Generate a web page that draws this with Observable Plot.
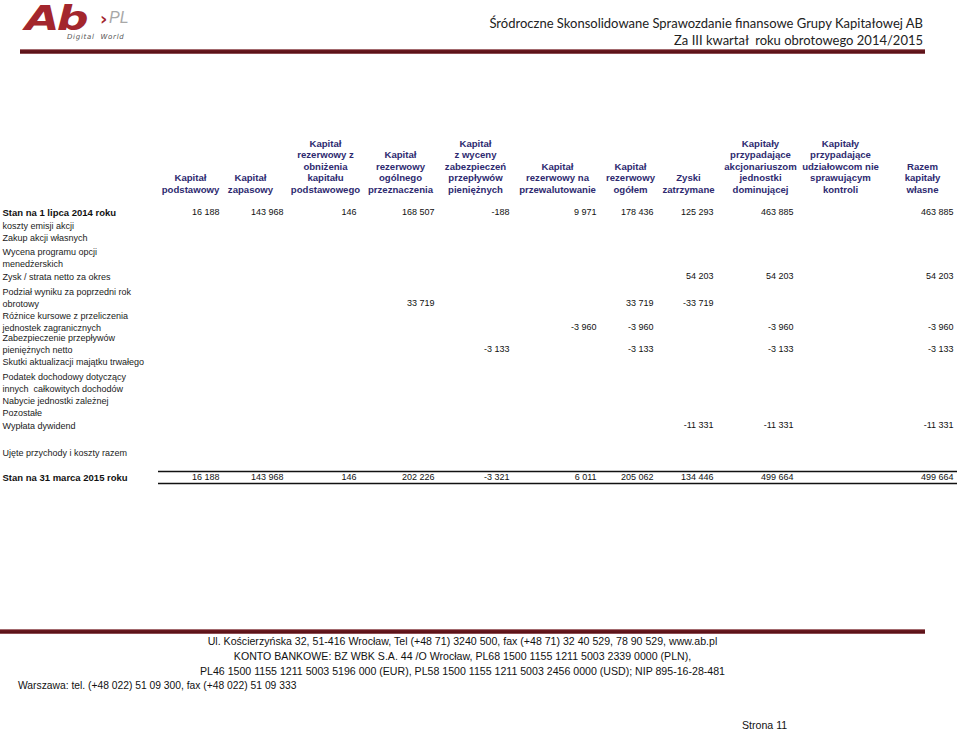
<!DOCTYPE html>
<html><head><meta charset="utf-8">
<script src="https://cdn.jsdelivr.net/npm/d3@7"></script>
<script src="https://cdn.jsdelivr.net/npm/@observablehq/plot@0.6"></script>
<style>
body{margin:0;background:#fff;width:960px;height:730px;position:relative;overflow:hidden;font-family:"Liberation Sans",Arial,sans-serif;color:#111}
#chart{position:absolute;left:0;top:0}
.abs{position:absolute;white-space:nowrap}
.bar{position:absolute;height:5px;background:linear-gradient(#c9a0a3 0%,#6a1a20 25%,#5a1218 70%,#a86a70 100%)}
.title{right:37px;font-family:"Lato","Liberation Sans",sans-serif;font-size:13px;color:#222;text-align:right}
.foot{font-family:"Liberation Sans",Arial,sans-serif;font-size:10.6px;color:#111;left:0;width:925px;text-align:center}
</style></head><body>
<div id="chart"></div>
<div class="abs" style="left:25px;top:5px;height:27px;overflow:visible;font:italic bold 33px/27px 'DejaVu Sans',sans-serif;color:#a3262d;letter-spacing:-2px;transform:scaleX(1.35);transform-origin:left top">Ab</div>
<div class="abs" style="left:100px;top:8px;font:bold 18px 'DejaVu Sans',sans-serif;color:#a3262d">›</div>
<div class="abs" style="left:109px;top:9px;font:italic 16px 'Liberation Sans',sans-serif;color:#a8a8a8">PL</div>
<div class="abs" style="left:67px;top:33px;font:italic 7px/8px 'DejaVu Sans',sans-serif;color:#555;letter-spacing:0.7px">Digital &nbsp;World</div>
<div class="abs title" style="top:15px">Śródroczne Skonsolidowane Sprawozdanie finansowe Grupy Kapitałowej AB</div>
<div class="abs title" style="top:32px">Za III kwartał&nbsp; roku obrotowego 2014/2015</div>
<div class="bar" style="left:20px;top:49px;width:905px"></div>
<div class="bar" style="left:0px;top:629px;width:925px"></div>
<div class="abs foot" style="top:635px">Ul. Kościerzyńska 32, 51-416 Wrocław, Tel (+48 71) 3240 500, fax (+48 71) 32 40 529, 78 90 529, www.ab.pl</div>
<div class="abs foot" style="top:650px">KONTO BANKOWE: BZ WBK S.A. 44 /O Wrocław, PL68 1500 1155 1211 5003 2339 0000 (PLN),</div>
<div class="abs foot" style="top:665px">PL46 1500 1155 1211 5003 5196 000 (EUR), PL58 1500 1155 1211 5003 2456 0000 (USD); NIP 895-16-28-481</div>
<div class="abs foot" style="top:680px;left:18px;width:auto;text-align:left;font-size:10.3px">Warszawa: tel. (+48 022) 51 09 300, fax (+48 022) 51 09 333</div>
<div class="abs foot" style="top:719px;left:742px;width:auto;text-align:left">Strona 11</div>
<script>
// ---------- data ----------
const columnHeaders = [
  "Kapitał\npodstawowy",
  "Kapitał\nzapasowy",
  "Kapitał\nrezerwowy z\nobniżenia\nkapitału\npodstawowego",
  "Kapitał\nrezerwowy\nogólnego\nprzeznaczenia",
  "Kapitał\nz wyceny\nzabezpieczeń\nprzepływów\npieniężnych",
  "Kapitał\nrezerwowy na\nprzewalutowanie",
  "Kapitał\nrezerwowy\nogółem",
  "Zyski\nzatrzymane",
  "Kapitały\nprzypadające\nakcjonariuszom\njednostki\ndominującej",
  "Kapitały\nprzypadające\nudziałowcom nie\nsprawującym\nkontroli",
  "Razem\nkapitały\nwłasne"
];
const rowLabels = [
  "Stan na 1 lipca 2014 roku",
  "koszty emisji akcji",
  "Zakup akcji własnych",
  "Wycena programu opcji\nmenedżerskich",
  "Zysk / strata netto za okres",
  "Podział wyniku za poprzedni rok\nobrotowy",
  "Różnice kursowe z przeliczenia\njednostek zagranicznych",
  "Zabezpieczenie przepływów\npieniężnych netto",
  "Skutki aktualizacji majątku trwałego",
  "Podatek dochodowy dotyczący\ninnych  całkowitych dochodów",
  "Nabycie jednostki zależnej",
  "Pozostałe",
  "Wypłata dywidend",
  "Ujęte przychody i koszty razem",
  "Stan na 31 marca 2015 roku"
];
const balanceRows = ["Stan na 1 lipca 2014 roku", "Stan na 31 marca 2015 roku"];
const _ = null;
const openingBalance = [16188, 143968, 146, 168507, -188, 9971, 178436, 125293, 463885, _, 463885];
const netProfit      = [_, _, _, _, _, _, _, 54203, 54203, _, 54203];
const profitSplit    = [_, _, _, 33719, _, _, 33719, -33719, _, _, _];
const fxDifferences  = [_, _, _, _, _, -3960, -3960, _, -3960, _, -3960];
const cashFlowHedge  = [_, _, _, _, -3133, _, -3133, _, -3133, _, -3133];
const dividends      = [_, _, _, _, _, _, _, -11331, -11331, _, -11331];
const closingBalance = [16188, 143968, 146, 202226, -3321, 6011, 205062, 134446, 499664, _, 499664];
const emptyRow = Array(11).fill(_);
const values = [
  openingBalance, emptyRow, emptyRow, emptyRow, netProfit, profitSplit,
  fxDifferences, cashFlowHedge, emptyRow, emptyRow, emptyRow, emptyRow,
  dividends, emptyRow, closingBalance
];

// ---------- layout (scale ranges) ----------
const headerCenters = [190, 250, 325, 400, 475, 557, 630, 688, 760, 840, 922];
const numberRights  = [219, 283, 356, 434, 509, 596, 653, 713, 793, 873, 953];
const xDomain = [-0.5], xRange = [158];
headerCenters.forEach((h, i) => { xDomain.push(i, i + 0.5); xRange.push(h, numberRights[i]); });
xDomain.push(10.7); xRange.push(957);
const rowY = [189, 212, 225, 237, 263, 276, 303, 327, 349, 361, 388, 400, 412, 425, 452, 477];

const fmt = d3.formatLocale({decimal: ",", thousands: " ", grouping: [3], currency: ["", ""], minus: "-"}).format(",d");
const cells = [];
values.forEach((row, r) => row.forEach((v, c) => { if (v != null) cells.push({row: r + 1, col: c, v}); }));
const labelRows = rowLabels.map((label, i) => ({label, row: i + 1, bold: balanceRows.includes(label)}));
const headerRows = columnHeaders.map((h, i) => ({h, col: i, row: 0}));

const font = "'Liberation Sans', Arial, sans-serif";
const plot = Plot.plot({
  width: 960, height: 500,
  margin: 0,
  style: {fontFamily: font, background: "transparent", overflow: "visible"},
  x: {type: "linear", domain: xDomain, range: xRange, axis: null},
  y: {type: "linear", domain: rowY.map((_, i) => i), range: rowY, axis: null},
  marks: [
    Plot.text(headerRows, {x: "col", y: "row", text: "h", textAnchor: "middle", lineAnchor: "bottom",
      dy: 3.2, fontSize: 9.6, fontWeight: "bold", lineHeight: 1.2, fill: "#2e2a70"}),
    Plot.text(labelRows.filter(d => !d.bold), {y: "row", text: "label", frameAnchor: "left", textAnchor: "start",
      lineAnchor: "bottom", dx: 2, dy: 3, fontSize: 9, lineHeight: 1.25, fill: "#1a1a1a"}),
    Plot.text(labelRows.filter(d => d.bold), {y: "row", text: "label", frameAnchor: "left", textAnchor: "start",
      lineAnchor: "bottom", dx: 2, dy: 3, fontSize: 9.5, fontWeight: "bold", fill: "#111"}),
    Plot.text(cells, {x: d => d.col + 0.5, y: "row", text: d => fmt(d.v), textAnchor: "end", fontSize: 9, fill: "#111"}),
    Plot.ruleY([15], {x1: -0.5, x2: 10.7, dy: -6, stroke: "#111", strokeWidth: 1.4}),
    Plot.ruleY([15], {x1: -0.5, x2: 10.7, dy: 6, stroke: "#111", strokeWidth: 1.4})
  ]
});
document.getElementById("chart").append(plot);
</script>
</body></html>
